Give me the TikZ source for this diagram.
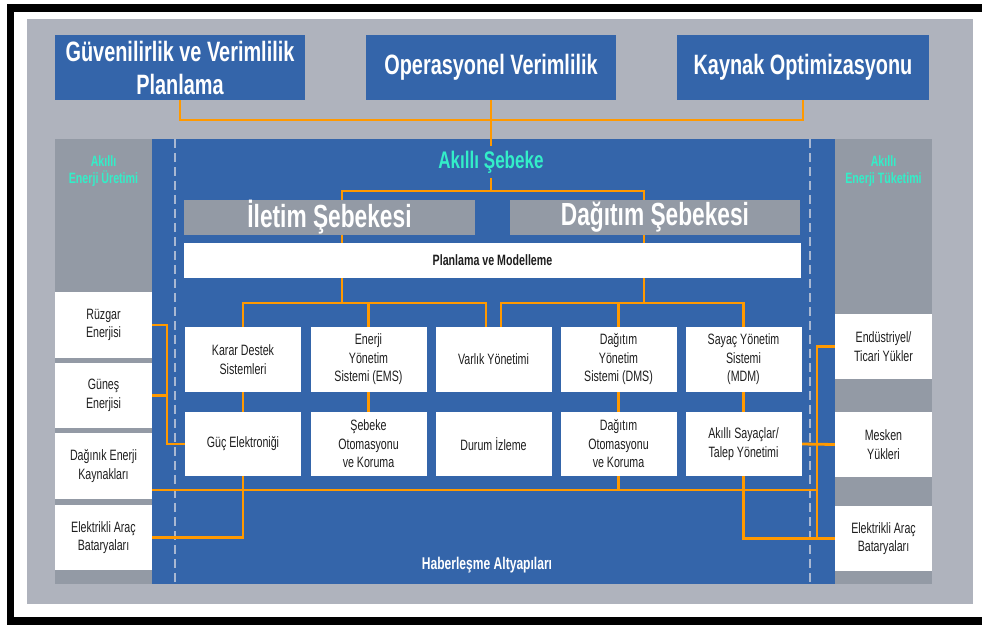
\documentclass[tikz,border=0pt]{standalone}
\usepackage{fontspec}
\setmainfont{Liberation Sans}[FakeStretch=0.71]
\definecolor{panelblue}{HTML}{3465AA}
\definecolor{bggrey}{HTML}{AFB3BD}
\definecolor{colgrey}{HTML}{939AA5}
\definecolor{wireorange}{HTML}{FF9900}
\definecolor{aqua}{HTML}{33EEC8}
\definecolor{dashgrey}{HTML}{A9B8D2}
\definecolor{textdark}{HTML}{1E1E1E}
\pgfdeclarelayer{bg}
\pgfdeclarelayer{wires}
\pgfsetlayers{bg,wires,main}
\begin{document}
\begin{tikzpicture}[x=1pt,y=-1pt,
  goal/.style={fill=panelblue,text=white,font=\bfseries\fontsize{28}{33}\selectfont,
    minimum width=250pt,minimum height=65pt,align=center,inner sep=0pt},
  head/.style={fill=colgrey,text=white,font=\bfseries\fontsize{32}{34}\selectfont,
    minimum width=291pt,minimum height=35pt,inner sep=0pt},
  func/.style={fill=white,text=textdark,font=\fontsize{15}{18.5}\selectfont,
    minimum width=116pt,minimum height=65pt,align=center,inner sep=0pt},
  side/.style={func,minimum width=97pt,minimum height=66pt},
  aqualabel/.style={text=aqua,font=\bfseries\fontsize{15}{17}\selectfont,align=center},
  wire/.style={draw=wireorange,line width=2.8pt},
  dashline/.style={draw=dashgrey,line width=1.2pt,dash pattern=on 9pt off 5pt}]
\useasboundingbox (0,0) rectangle (982,626);
%Hintergrund
\begin{pgfonlayer}{bg}
	\fill[black] (7,4) rectangle (982,12);
	\fill[black] (7,4) rectangle (14,625);
	\fill[black] (7,617) rectangle (982,625);
	\fill[bggrey] (27,19) rectangle (973,604);
	\fill[colgrey] (55,139) rectangle (932,584);
	\fill[panelblue] (152,139) rectangle (835,584);
	\draw[dashline] (175,139) -- (175,584);
	\draw[dashline] (810,139) -- (810,584);
\end{pgfonlayer}
%Ziele
\node[goal] (guven) at (180,67.5) {Güvenilirlik ve Verimlilik\\Planlama};
\node[goal] (operasyon) at (491,67.5) {Operasyonel Verimlilik};
\node[goal,minimum width=252pt] (kaynak) at (803,67.5) {Kaynak Optimizasyonu};
%Titel
\node[text=aqua,font=\bfseries\fontsize{24}{26}\selectfont,inner ysep=5pt] (akilli)
	at (491,162) {Akıllı Şebeke};
\node[aqualabel] (uretim) at (103.5,171) {Akıllı\\Enerji Üretimi};
\node[aqualabel] (tuketim) at (883.5,171) {Akıllı\\Enerji Tüketimi};
\node[text=white,font=\bfseries\fontsize{17}{19}\selectfont] (haber)
	at (487,565) {Haberleşme Altyapıları};
%Netze
\node[head] (iletim) at (329.5,217.5) {İletim Şebekesi};
\node[head,minimum width=290pt] (dagitim) at (655,217.5) {Dağıtım Şebekesi};
\node[func,minimum width=617pt,minimum height=35pt,font=\bfseries\fontsize{15}{16}\selectfont]
	(planlama) at (492.5,260.5) {Planlama ve Modelleme};
%Funktionen
\node[func] (karar) at (243,359.5) {Karar Destek\\Sistemleri};
\node[func] (ems) at (368.5,359.5) {Enerji\\Yönetim\\Sistemi (EMS)};
\node[func] (varlik) at (493.5,359.5) {Varlık Yönetimi};
\node[func] (dms) at (618.5,359.5) {Dağıtım\\Yönetim\\Sistemi (DMS)};
\node[func] (mdm) at (743.5,359.5) {Sayaç Yönetim\\Sistemi\\(MDM)};
\node[func,minimum height=64pt] (guc) at (243,444) {Güç Elektroniği};
\node[func,minimum height=64pt] (sebOto) at (368.5,444) {Şebeke\\Otomasyonu\\ve Koruma};
\node[func,minimum height=64pt] (durum) at (493.5,444) {Durum İzleme};
\node[func,minimum height=64pt] (dagOto) at (618.5,444) {Dağıtım\\Otomasyonu\\ve Koruma};
\node[func,minimum height=64pt] (sayaclar) at (743.5,444) {Akıllı Sayaçlar/\\Talep Yönetimi};
%Erzeugung
\node[side] (ruzgar) at (103.5,325) {Rüzgar\\Enerjisi};
\node[side,minimum height=65pt] (gunes) at (103.5,395.5) {Güneş\\Enerjisi};
\node[side] (daginik) at (103.5,466) {Dağınık Enerji\\Kaynakları};
\node[side,minimum height=65pt] (elekL) at (103.5,537.5) {Elektrikli Araç\\Bataryaları};
%Verbrauch
\node[side,minimum height=65pt] (endustri) at (883.5,346.5) {Endüstriyel/\\Ticari Yükler};
\node[side,minimum height=65pt] (mesken) at (883.5,444.5) {Mesken\\Yükleri};
\node[side,minimum height=65pt] (elekR) at (883.5,538.5) {Elektrikli Araç\\Bataryaları};
%Verbindungen
\coordinate (topbus) at (491,120);
\coordinate (smartbus) at (491,191);
\coordinate (lbus) at (342,303);
\coordinate (rbus) at (644,303);
\coordinate (ljog) at (167,444);
\coordinate (dbusW) at (152,490);
\coordinate (dbusE) at (817,490);
\coordinate (rjog) at (817,538.5);
\begin{pgfonlayer}{wires}
	\draw[wire] (guven.south) |- (topbus) -| (kaynak.south);
	\draw[wire] (operasyon.south) -- (akilli.north);
	\draw[wire] (akilli.south) -- (smartbus);
	\draw[wire] (lbus) |- (smartbus) -| (rbus);
	\draw[wire] (karar.north) |- (lbus) -| ([xshift=-7.5pt]varlik.north);
	\draw[wire] (ems.north) -- (ems.north |- lbus);
	\draw[wire] ([xshift=7.5pt]varlik.north) |- (rbus) -| (mdm.north);
	\draw[wire] (dms.north) -- (dms.north |- rbus);
	\foreach \a/\b in {karar/guc,ems/sebOto,dms/dagOto,mdm/sayaclar}
	  \draw[wire] (\a.south) -- (\b.north);
	\draw[wire] (ruzgar.east) -| (ljog) -- (guc.west);
	\draw[wire] (gunes.east) -- (gunes.east -| ljog);
	\draw[wire] (dbusW) -- (dbusE);
	\draw[wire] (guc.south) |- (elekL.east);
	\draw[wire] (dagOto.south) -- (dagOto.south |- dbusE);
	\draw[wire] (sayaclar.south) |- (elekR.west);
	\draw[wire] (sayaclar.east) -- (mesken.west);
	\draw[wire] (endustri.west) -| (rjog);
\end{pgfonlayer}
\end{tikzpicture}
\end{document}
